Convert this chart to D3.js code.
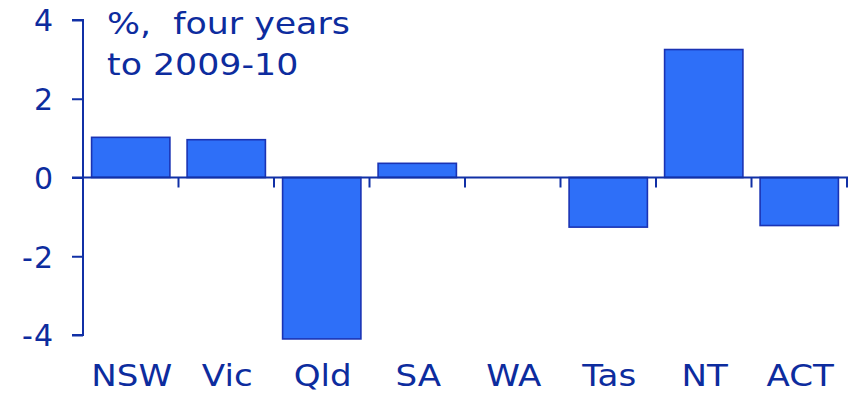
<!DOCTYPE html>
<html>
<head>
<meta charset="utf-8">
<script src="https://cdn.jsdelivr.net/npm/d3@7"></script>
<style>
  html, body { margin: 0; padding: 0; background: #fff; }
  svg { display: block; }
  text { font-family: Verdana, "DejaVu Sans", sans-serif; fill: #0d2c9e; }
</style>
</head>
<body>
<script>
// Change in share, four years to 2009-10, by state/territory
const states = ["NSW", "Vic", "Qld", "SA", "WA", "Tas", "NT", "ACT"];
const values = [1.02, 0.96, -4.1, 0.36, 0.0, -1.26, 3.25, -1.22];
const yTicks = [-4, -2, 0, 2, 4];
const titleLines = ["%,  four years", "to 2009-10"];

const W = 849, H = 393;
const svg = d3.select("body").append("svg").attr("width", W).attr("height", H);

const x = d3.scaleBand().domain(states).range([83, 847]).paddingInner(0.18).paddingOuter(0.09);
const y = d3.scaleLinear().domain([-4, 4]).range([335, 20]);

const ink = "#1130a6";
const wide = 1.1;      // slightly widened lettering for categories
const wideNote = 1.16; // and for the unit note

// bars
svg.append("g").selectAll("rect").data(states).join("rect")
  .attr("x", d => x(d))
  .attr("width", x.bandwidth())
  .attr("y", (d, i) => y(Math.max(0, values[i])))
  .attr("height", (d, i) => Math.abs(y(values[i]) - y(0)))
  .attr("fill", "#2e6ff8")
  .attr("stroke", "#1a33b4")
  .attr("stroke-width", 1.6);

// y axis (plain hyphen for negatives)
const yAxis = d3.axisLeft(y).tickValues(yTicks).tickSize(11).tickPadding(18)
  .tickFormat(d => String(d));
const gy = svg.append("g").attr("transform", "translate(83,0)").call(yAxis);
gy.select(".domain").attr("stroke", ink).attr("stroke-width", 2).attr("d", `M-11,${y(4)}H0V${y(-4)}H-11`);
gy.selectAll(".tick line").attr("stroke", ink).attr("stroke-width", 2);
gy.selectAll(".tick text").style("font-size", "30px").attr("fill", "#0d2c9e")
  .style("letter-spacing", "1px")
  .attr("dy", "0.36em");

// zero line with category boundary ticks
const boundaries = [83].concat(states.map(s => x(s) + x.bandwidth() + x.step() * x.paddingInner() / 2));
boundaries[boundaries.length - 1] = 847;
svg.append("line").attr("x1", 72).attr("x2", 848).attr("y1", y(0)).attr("y2", y(0))
  .attr("stroke", ink).attr("stroke-width", 2.2);
svg.append("g").selectAll("line").data(boundaries).join("line")
  .attr("x1", d => d).attr("x2", d => d)
  .attr("y1", y(0)).attr("y2", y(0) + 10)
  .attr("stroke", ink).attr("stroke-width", 2);

// category labels
svg.append("g").selectAll("text").data(states).join("text")
  .attr("transform", d => `translate(${x(d) + x.bandwidth() / 2 + 1},386) scale(${wide},1)`)
  .attr("text-anchor", "middle")
  .style("font-size", "31px")
  .text(d => d);

// unit note
svg.append("g").selectAll("text").data(titleLines).join("text")
  .attr("transform", (d, i) => `translate(107,${34 + i * 41}) scale(${wideNote},1)`)
  .style("font-size", "30px")
  .style("white-space", "pre")
  .attr("xml:space", "preserve")
  .text(d => d);
</script>
</body>
</html>
